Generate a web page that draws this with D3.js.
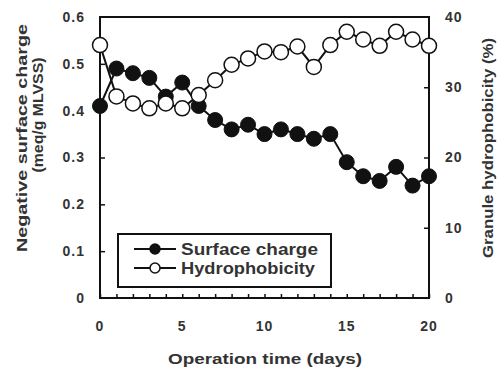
<!DOCTYPE html>
<html>
<head>
<meta charset="utf-8">
<script src="https://cdn.jsdelivr.net/npm/d3@7"></script>
<style>
  html, body { margin: 0; padding: 0; background: #fff; }
  svg text { font-family: "Liberation Sans", Arial, sans-serif; font-weight: bold; fill: #333; }
</style>
</head>
<body>
<div id="main"></div>
<script>
// values
var days = [0, 1, 2, 3, 4, 5, 6, 7, 8, 9, 10, 11, 12, 13, 14, 15, 16, 17, 18, 19, 20];
var surfaceCharge = [0.41, 0.49, 0.48, 0.47, 0.43, 0.46, 0.41, 0.38, 0.36, 0.37, 0.35, 0.36, 0.35, 0.34, 0.35, 0.29, 0.26, 0.25, 0.28, 0.24, 0.26];
var hydrophobicity = [36, 28.7, 27.7, 27, 27.7, 27, 28.9, 31, 33.2, 34.1, 35.1, 35, 35.8, 32.9, 36, 37.9, 36.8, 35.9, 37.9, 36.8, 35.9];
var xTicks = [0, 5, 10, 15, 20];
var leftTicks = [0, 0.1, 0.2, 0.3, 0.4, 0.5, 0.6];
var rightTicks = [0, 10, 20, 30, 40];
var seriesNames = ["Surface charge", "Hydrophobicity"];

var width = 499, height = 373;
var margin = { top: 17, right: 70, bottom: 75, left: 100 };
var w = width - margin.left - margin.right;
var h = height - margin.top - margin.bottom;

var svg = d3.select("#main").append("svg")
    .attr("width", width)
    .attr("height", height);

var g = svg.append("g")
    .attr("transform", "translate(" + margin.left + "," + margin.top + ")");

var x = d3.scaleLinear().domain([0, 20]).range([0, w]);
var yL = d3.scaleLinear().domain([0, 0.6]).range([h, 0]);
var yR = d3.scaleLinear().domain([0, 40]).range([h, 0]);

// inward ticks
var xAxis = d3.axisTop(x).tickValues(days).tickSize(4).tickFormat("");
g.append("g").attr("transform", "translate(0," + h + ")").call(xAxis);

var lAxis = d3.axisRight(yL).tickValues(leftTicks.slice(1, -1)).tickSize(5).tickFormat("");
g.append("g").call(lAxis);

var rAxis = d3.axisLeft(yR).tickValues(rightTicks.slice(1, -1)).tickSize(5).tickFormat("");
g.append("g").attr("transform", "translate(" + w + ",0)").call(rAxis);

g.selectAll(".domain").remove();
g.selectAll(".tick line").attr("stroke", "#111").attr("stroke-width", 1.5);

// frame
g.append("rect")
    .attr("width", w).attr("height", h)
    .attr("fill", "none").attr("stroke", "#111").attr("stroke-width", 2);

// tick labels
g.selectAll(".xl").data(xTicks).enter().append("text")
    .attr("x", d => x(d)).attr("y", h + 33)
    .attr("text-anchor", "middle").attr("font-size", 14).attr("letter-spacing", 1)
    .text(d => d);

g.selectAll(".ll").data(leftTicks).enter().append("text")
    .attr("x", -15).attr("y", d => yL(d)).attr("dy", "0.35em")
    .attr("text-anchor", "end").attr("font-size", 14).attr("letter-spacing", 1)
    .text(d => d === 0 ? "0" : d3.format(".1f")(d));

g.selectAll(".rl").data(rightTicks).enter().append("text")
    .attr("x", w + 16).attr("y", d => yR(d)).attr("dy", "0.35em")
    .attr("text-anchor", "start").attr("font-size", 14).attr("letter-spacing", 1)
    .text(d => d);

// axis titles
svg.append("text")
    .attr("x", 265).attr("y", 364)
    .attr("text-anchor", "middle").attr("font-size", 15)
    .attr("textLength", 194).attr("lengthAdjust", "spacingAndGlyphs")
    .text("Operation time (days)");

svg.append("text")
    .attr("transform", "translate(27,138) rotate(-90)")
    .attr("text-anchor", "middle").attr("font-size", 15)
    .attr("textLength", 228).attr("lengthAdjust", "spacingAndGlyphs")
    .text("Negative surface charge");

svg.append("text")
    .attr("transform", "translate(43,115) rotate(-90)")
    .attr("text-anchor", "middle").attr("font-size", 15)
    .attr("textLength", 115).attr("lengthAdjust", "spacingAndGlyphs")
    .text("(meq/g MLVSS)");

svg.append("text")
    .attr("transform", "translate(493,148) rotate(-90)")
    .attr("text-anchor", "middle").attr("font-size", 15)
    .attr("textLength", 220).attr("lengthAdjust", "spacingAndGlyphs")
    .text("Granule hydrophobicity (%)");

// series
var lineL = d3.line().x((d, i) => x(days[i])).y(d => yL(d));
var lineR = d3.line().x((d, i) => x(days[i])).y(d => yR(d));

g.append("path").datum(surfaceCharge)
    .attr("d", lineL).attr("fill", "none").attr("stroke", "#111").attr("stroke-width", 2);
g.selectAll(".sc").data(surfaceCharge).enter().append("circle")
    .attr("cx", (d, i) => x(days[i])).attr("cy", d => yL(d)).attr("r", 7.5)
    .attr("fill", "#111").attr("stroke", "#111");

g.append("path").datum(hydrophobicity)
    .attr("d", lineR).attr("fill", "none").attr("stroke", "#111").attr("stroke-width", 2);
g.selectAll(".hy").data(hydrophobicity).enter().append("circle")
    .attr("cx", (d, i) => x(days[i])).attr("cy", d => yR(d)).attr("r", 7.5)
    .attr("fill", "#fff").attr("stroke", "#111").attr("stroke-width", 1.5);

// legend
var leg = svg.append("g").attr("transform", "translate(118,234)");
leg.append("rect").attr("width", 213).attr("height", 53)
    .attr("fill", "#fff").attr("stroke", "#111").attr("stroke-width", 2);

var item = leg.selectAll(".item").data(seriesNames).enter().append("g")
    .attr("transform", (d, i) => "translate(0," + (15 + i * 19) + ")");
item.append("line").attr("x1", 16).attr("x2", 58)
    .attr("stroke", "#111").attr("stroke-width", 2);
item.append("circle").attr("cx", 37).attr("r", 5)
    .attr("fill", (d, i) => i === 0 ? "#111" : "#fff")
    .attr("stroke", "#111").attr("stroke-width", 1.5);
item.append("text").attr("x", 63).attr("dy", "0.35em")
    .attr("font-size", 16)
    .attr("textLength", (d, i) => i === 0 ? 137 : 134).attr("lengthAdjust", "spacingAndGlyphs")
    .text(d => d);
</script>
</body>
</html>
